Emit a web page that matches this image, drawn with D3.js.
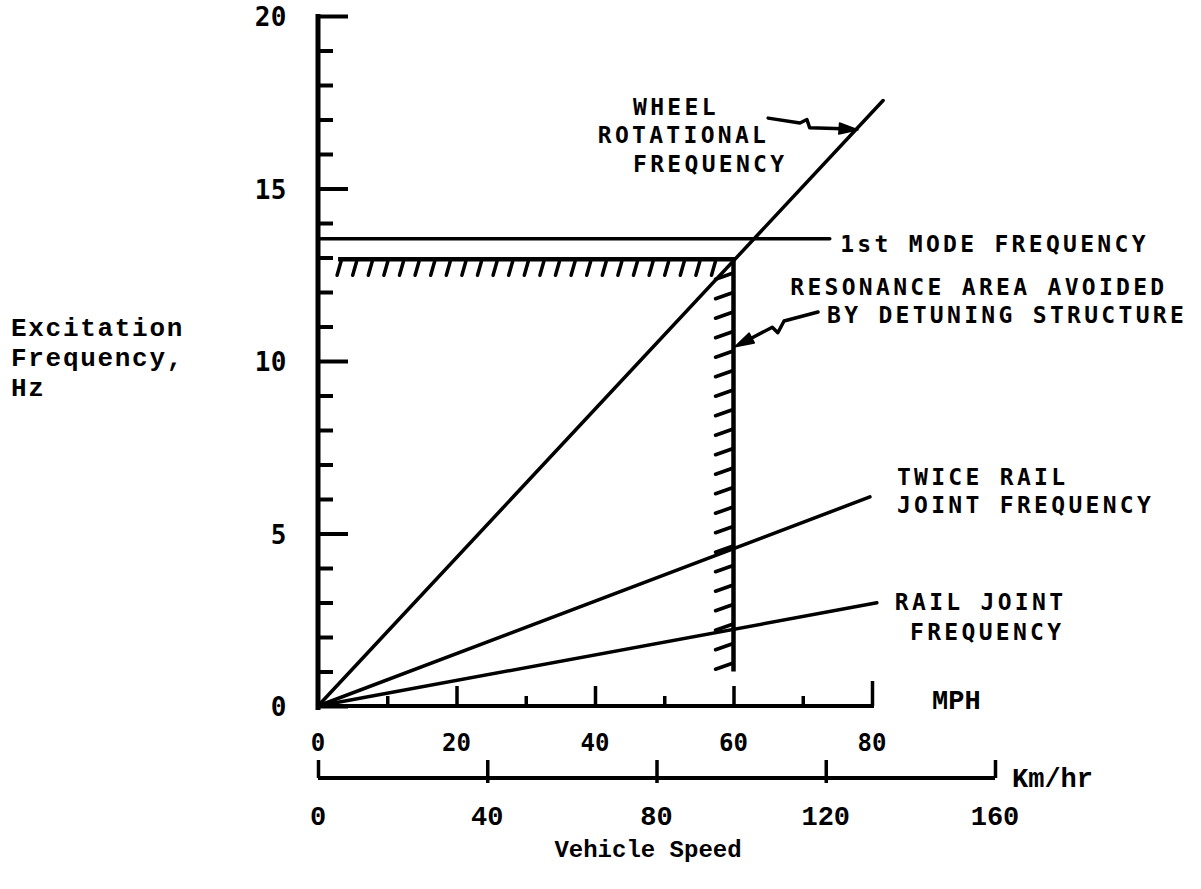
<!DOCTYPE html>
<html>
<head>
<meta charset="utf-8">
<script src="https://cdn.jsdelivr.net/npm/d3@7/dist/d3.min.js"></script>
<style>
  body { margin: 0; background: #fff; }
  svg { display: block; }
  .ann { font-family: "DejaVu Sans Mono", monospace; font-weight: bold; font-size: 23px; letter-spacing: 3.3px; fill: #000; }
  .tick-sans { font-family: "DejaVu Sans Mono", monospace; font-weight: bold; fill: #000; }
  .typew { font-family: "Liberation Mono", "Courier New", monospace; font-weight: bold; fill: #000; }
</style>
</head>
<body>
<svg id="chart" width="1201" height="889"></svg>
<script>
// ---- data: speed in mph, frequency in Hz ----
const wheelSpeed = [0, 81.6];
const wheelFreq  = [0, 17.55];
const modeSpeed  = [0, 73.9];
const modeFreq   = [13.54, 13.54];
const twiceSpeed = [0, 79.7];
const twiceFreq  = [0, 6.06];
const railSpeed  = [0, 80.7];
const railFreq   = [0, 2.99];
// boundary of the avoided resonance area
const avoidSpeed = [2.9, 60, 60];
const avoidFreq  = [12.95, 12.95, 1.0];

const freqTicks   = d3.range(0, 21);
const freqLabels  = [0, 5, 10, 15, 20];
const mphTicks    = d3.range(10, 81, 10);
const mphLabels   = [0, 20, 40, 60, 80];
const kmTicks     = [0, 40, 80, 120, 160];

// annotation text: [text, mph, Hz] (left edge, baseline)
const annText = [
  ["WHEEL", 45.5, 17.13],
  ["ROTATIONAL", 40.4, 16.32],
  ["FREQUENCY", 45.5, 15.48],
  ["1st MODE FREQUENCY", 75.4, 13.16],
  ["RESONANCE AREA AVOIDED", 68.2, 11.91],
  ["BY DETUNING STRUCTURE", 73.5, 11.10],
  ["TWICE RAIL", 83.6, 6.41],
  ["JOINT FREQUENCY", 83.6, 5.59],
  ["RAIL JOINT", 83.3, 2.78],
  ["FREQUENCY", 85.5, 1.91]
];
// leader arrows with a lightning-style break: [mph, Hz] points, last is the tip
const wheelArrow = [[65.0, 17.04], [69.6, 16.90], [70.6, 17.00], [71.0, 16.76], [75.8, 16.73], [78.0, 16.70]];
const resArrow   = [[72.2, 11.42], [67.3, 11.16], [66.4, 10.82], [65.6, 10.98], [62.1, 10.61], [60.2, 10.41]];

// ---- scales ----
const svg = d3.select("#chart");
const x  = d3.scaleLinear().domain([0, 80]).range([318, 872]);
const y  = d3.scaleLinear().domain([0, 20]).range([706, 16]);
const km = d3.scaleLinear().domain([0, 160]).range([318, 995]);

const line = d3.line().x(d => x(d[0])).y(d => y(d[1]));
const zip = (a, b) => a.map((v, i) => [v, b[i]]);

// ---- frequency axis (ticks drawn inward) ----
const yAxis = d3.axisRight(y).tickValues(freqTicks).tickSizeOuter(0).tickFormat("");
const gy = svg.append("g").attr("transform", "translate(318,0)").call(yAxis);
gy.select(".domain").attr("stroke", "#000").attr("stroke-width", 5)
  .attr("d", `M0,${y(0) + 4}V${y(20) - 2}`);
gy.selectAll(".tick line")
  .attr("stroke", "#000").attr("stroke-width", 4)
  .attr("x2", d => (d % 5 === 0 ? 30 : 15));

svg.append("g").selectAll("text").data(freqLabels).join("text")
  .attr("class", "tick-sans")
  .attr("x", 287).attr("y", d => y(d) + 10)
  .attr("text-anchor", "end")
  .attr("font-size", 26).attr("letter-spacing", 0.5)
  .text(d => d);

// ---- mph axis ----
const xAxis = d3.axisTop(x).tickValues(mphTicks).tickSizeOuter(0).tickFormat("");
const gx = svg.append("g").attr("transform", `translate(0,${y(0)})`).call(xAxis);
gx.select(".domain").attr("stroke", "#000").attr("stroke-width", 4)
  .attr("d", `M${x(0)},0H${x(80) + 2}`);
gx.selectAll(".tick line")
  .attr("stroke", "#000").attr("stroke-width", 3.5)
  .attr("y2", d => (d === 80 ? -25 : d % 20 === 0 ? -20 : -10));

svg.append("g").selectAll("text").data(mphLabels).join("text")
  .attr("class", "tick-sans")
  .attr("x", d => x(d)).attr("y", 751)
  .attr("text-anchor", "middle")
  .attr("font-size", 24)
  .text(d => d);

svg.append("text").attr("class", "typew")
  .attr("x", 932).attr("y", 709).attr("font-size", 27).text("MPH");

// ---- km/hr axis ----
const kmY = 778;
const kmAxis = d3.axisTop(km).tickValues(kmTicks).tickSizeOuter(0).tickFormat("");
const gk = svg.append("g").attr("transform", `translate(0,${kmY})`).call(kmAxis);
gk.select(".domain").attr("stroke", "#000").attr("stroke-width", 4)
  .attr("d", `M${km(0)},0H${km(160)}`);
gk.selectAll(".tick line")
  .attr("stroke", "#000").attr("stroke-width", 3.5)
  .attr("y1", d => (d === 0 || d === 160 ? 0 : 5))
  .attr("y2", -18);

svg.append("g").selectAll("text").data(kmTicks).join("text")
  .attr("class", "typew")
  .attr("x", d => km(d)).attr("y", 825)
  .attr("text-anchor", "middle")
  .attr("font-size", 27)
  .text(d => d);

svg.append("text").attr("class", "typew")
  .attr("x", 1012).attr("y", 787).attr("font-size", 27).text("Km/hr");

// ---- axis titles ----
svg.append("text").attr("class", "typew")
  .attr("x", 648).attr("y", 857).attr("text-anchor", "middle")
  .attr("font-size", 24).text("Vehicle Speed");

svg.append("g").selectAll("text").data(["Excitation", "Frequency,", "Hz"]).join("text")
  .attr("class", "typew")
  .attr("x", 11).attr("y", (d, i) => 336 + i * 30)
  .attr("font-size", 26).attr("letter-spacing", 1.7)
  .text(d => d);

// ---- frequency lines ----
const series = [
  zip(wheelSpeed, wheelFreq),
  zip(modeSpeed, modeFreq),
  zip(twiceSpeed, twiceFreq),
  zip(railSpeed, railFreq)
];
svg.append("g").selectAll("path").data(series).join("path")
  .attr("d", line)
  .attr("fill", "none").attr("stroke", "#000")
  .attr("stroke-width", 3.5).attr("stroke-linecap", "round");

// ---- avoided resonance boundary with hatching ----
const avoid = zip(avoidSpeed, avoidFreq);
svg.append("path").attr("d", line(avoid))
  .attr("fill", "none").attr("stroke", "#000").attr("stroke-width", 4.5)
  .attr("stroke-linejoin", "miter");

const hY = y(avoid[0][1]);
const hx0 = x(avoid[0][0]), hx1 = x(avoid[1][0]);
const hatchH = d3.range(hx0 + 3, hx1 - 4, 15.6).map(px => [px, hY + 2, px - 4, hY + 16]);
const vX = x(avoid[1][0]);
const vy0 = y(avoid[1][1]), vy1 = y(avoid[2][1]);
const hatchV = d3.range(vy0 + 14, vy1 + 1, 19.5).map(py => [vX - 1, py, vX - 18, py + 6]);

svg.append("g").selectAll("line").data(hatchH.concat(hatchV)).join("line")
  .attr("x1", d => d[0]).attr("y1", d => d[1])
  .attr("x2", d => d[2]).attr("y2", d => d[3])
  .attr("stroke", "#000").attr("stroke-width", 3.5).attr("stroke-linecap", "round");

// ---- annotations ----
svg.append("g").selectAll("text").data(annText).join("text")
  .attr("class", "ann")
  .attr("x", d => x(d[1])).attr("y", d => y(d[2]))
  .text(d => d[0]);

function arrow(pts) {
  const g = svg.append("g");
  const p = pts.map(d => [x(d[0]), y(d[1])]);
  const tip = p[p.length - 1], prev = p[p.length - 2];
  const ang = Math.atan2(tip[1] - prev[1], tip[0] - prev[0]);
  const len = 19, hw = 5.5;
  const bx = tip[0] - len * Math.cos(ang), by = tip[1] - len * Math.sin(ang);
  g.append("path")
    .attr("d", d3.line()(p.slice(0, -1).concat([[bx, by]])))
    .attr("fill", "none").attr("stroke", "#000").attr("stroke-width", 3.5)
    .attr("stroke-linejoin", "round").attr("stroke-linecap", "round");
  const nx = -Math.sin(ang) * hw, ny = Math.cos(ang) * hw;
  g.append("path")
    .attr("d", `M${tip[0]},${tip[1]}L${bx + nx},${by + ny}L${bx - nx},${by - ny}Z`)
    .attr("fill", "#000").attr("stroke", "#000").attr("stroke-width", 1.5)
    .attr("stroke-linejoin", "round");
}
arrow(wheelArrow);
arrow(resArrow);
</script>
</body>
</html>
